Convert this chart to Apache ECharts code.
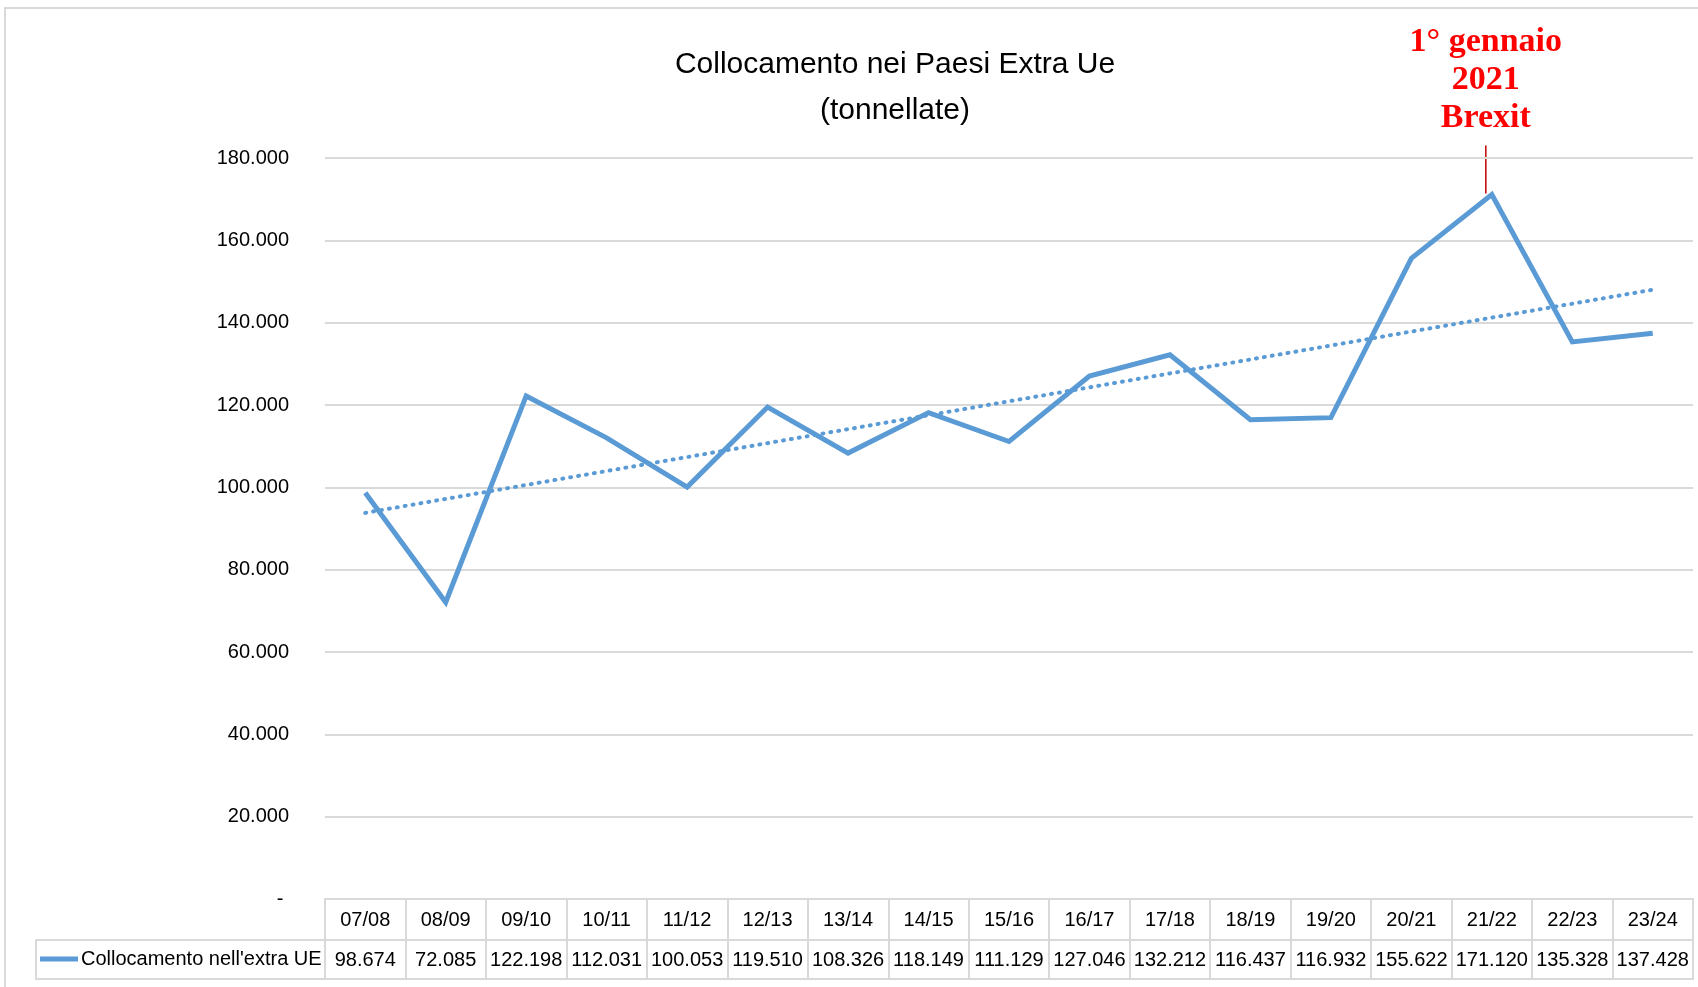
<!DOCTYPE html>
<html>
<head>
<meta charset="utf-8">
<script src="https://cdn.jsdelivr.net/npm/echarts@6/dist/echarts.min.js"></script>
<style>
  html, body { margin: 0; padding: 0; background: #fff; }
  #chart { width: 1698px; height: 987px; }
</style>
</head>
<body>
<div id="chart"></div>
<script>
// stagioni
const seasons = ['07/08','08/09','09/10','10/11','11/12','12/13','13/14','14/15','15/16','16/17','17/18','18/19','19/20','20/21','21/22','22/23','23/24']
// tonnellate collocate nei paesi extra UE
const extraUe = [98674,72085,122198,112031,100053,119510,108326,118149,111129,127046,132212,116437,116932,155622,171120,135328,137428]
// linea di tendenza (inizio e fine)
const trend = [93800,null,null,null,null,null,null,null,null,null,null,null,null,null,null,null,148000]
const yTicks = {min: 0, max: 180000, step: 20000}
const brexitIndex = 14
const brexitText = '1° gennaio\n2021\nBrexit'

const FONT = '"Liberation Sans", Arial, sans-serif'
const GRID = '#d9d9d9'
const BLUE = '#5b9bd5'

function fmt(v) {
    if (v === 0) return '- '
    return Math.round(v).toString().replace(/\B(?=(\d{3})+(?!\d))/g, '.')
}

const frame = [
    {
        type: 'rect',
        shape: {x: 5, y: 8, width: 1720, height: 1000},
        style: {fill: 'none', stroke: GRID, lineWidth: 2},
        silent: true
    },
    {
        type: 'rect',
        shape: {x: 36, y: 940, width: 1657, height: 39},
        style: {fill: 'none', stroke: GRID, lineWidth: 2},
        silent: true
    }
]

const chart = echarts.init(document.getElementById('chart'))
chart.setOption({
    animation: false,
    backgroundColor: '#fff',
    title: {
        text: 'Collocamento nei Paesi Extra Ue\n(tonnellate)',
        left: 895,
        top: 42,
        textAlign: 'center',
        padding: 0,
        textStyle: {
            fontFamily: FONT,
            fontSize: 30,
            fontWeight: 'normal',
            lineHeight: 46,
            color: '#000'
        }
    },
    legend: {
        data: ['Collocamento nell\'extra UE'],
        left: 40,
        top: 949,
        padding: 0,
        icon: 'rect',
        itemWidth: 38,
        itemHeight: 5,
        itemGap: 4,
        textStyle: {fontFamily: FONT, fontSize: 20, color: '#000', padding: [0,0,0,-2]}
    },
    grid: {left: 325, right: 5, top: 158, bottom: 88},
    xAxis: [
        {
            type: 'category',
            data: seasons,
            boundaryGap: true,
            axisLine: {show: true, lineStyle: {color: GRID, width: 2}},
            axisTick: {show: true, length: 80, lineStyle: {color: GRID, width: 2}},
            axisLabel: {
                interval: 0,
                margin: 11,
                fontFamily: FONT, fontSize: 20, color: '#000'
            }
        },
        {
            type: 'category',
            data: seasons,
            position: 'bottom',
            offset: 40,
            boundaryGap: true,
            axisLine: {show: false},
            axisTick: {show: false},
            axisLabel: {
                interval: 0,
                margin: 11,
                fontFamily: FONT, fontSize: 20, color: '#000',
                formatter: (v, i) => fmt(extraUe[i])
            }
        }
    ],
    yAxis: {
        type: 'value',
        min: yTicks.min,
        max: yTicks.max,
        interval: yTicks.step,
        axisLine: {show: false},
        axisTick: {show: false},
        splitLine: {lineStyle: {color: GRID, width: 2}},
        axisLabel: {
            margin: 36,
            fontFamily: FONT, fontSize: 20, color: '#000',
            formatter: fmt
        }
    },
    series: [
        {
            name: 'Collocamento nell\'extra UE',
            type: 'line',
            data: extraUe,
            symbol: 'none',
            color: BLUE,
            lineStyle: {color: BLUE, width: 5, join: 'miter'},
            z: 3
        },
        {
            name: 'Tendenza',
            type: 'line',
            data: trend,
            connectNulls: true,
            symbol: 'none',
            color: BLUE,
            lineStyle: {color: BLUE, width: 4, type: [1, 7], cap: 'round'},
            z: 2
        }
    ],
    graphic: frame
})

// annotazione Brexit sopra il picco 21/22
const peak = chart.convertToPixel({seriesIndex: 0}, [brexitIndex, extraUe[brexitIndex]])
chart.setOption({
    graphic: frame.concat([
        {
            type: 'line',
            shape: {x1: peak[0] - 6, y1: peak[1] - 49, x2: peak[0] - 6, y2: peak[1] - 1},
            style: {stroke: '#c00000', lineWidth: 1.5},
            silent: true
        },
        {
            type: 'text',
            x: peak[0] - 6,
            y: peak[1] - 57,
            style: {
                text: brexitText,
                align: 'center',
                verticalAlign: 'bottom',
                fill: '#ff0000',
                fontFamily: '"Liberation Serif", "DejaVu Serif", serif',
                fontWeight: 'bold',
                fontSize: 34,
                lineHeight: 38
            },
            silent: true
        }
    ])
})
</script>
</body>
</html>
